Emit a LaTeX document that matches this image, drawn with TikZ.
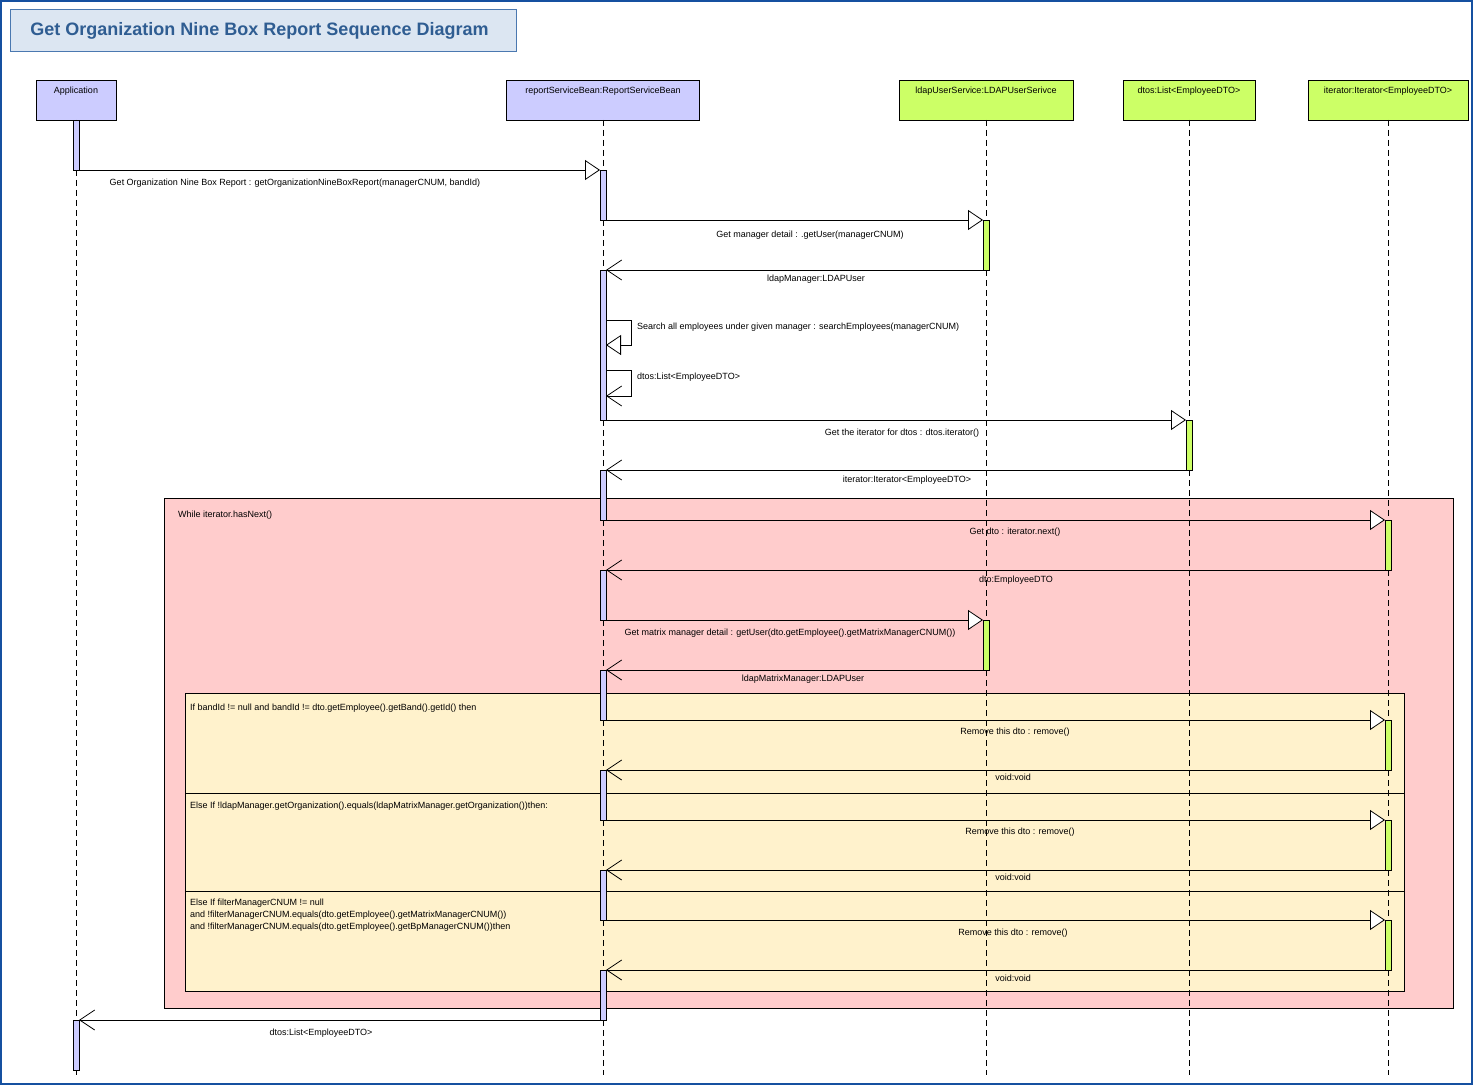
\documentclass[tikz,border=0pt]{standalone}
\usepackage{fontspec}
\setmainfont{Liberation Sans}
\usetikzlibrary{arrows.meta,positioning}

\definecolor{lifeblue}{HTML}{CCCCFF}
\definecolor{lifegreen}{HTML}{CCFF66}
\definecolor{looppink}{HTML}{FFCCCC}
\definecolor{altyellow}{HTML}{FFF2CC}
\definecolor{titlefill}{HTML}{DCE6F2}
\definecolor{titleline}{HTML}{4A78B0}
\definecolor{titletext}{HTML}{2F5D92}
\definecolor{pageline}{HTML}{1550A0}

\tikzset{
  head/.style={draw,line width=0.8pt,anchor=north,minimum height=40pt,inner xsep=2pt,outer sep=0pt,
    inner ysep=3pt,text height=11pt,text depth=23pt,font=\fontsize{9}{11}\selectfont},
  bluebar/.style={draw,fill=lifeblue,line width=0.8pt,minimum width=6pt,inner sep=0pt,outer sep=0pt,anchor=north},
  greenbar/.style={draw,fill=lifegreen,line width=0.8pt,minimum width=6pt,inner sep=0pt,outer sep=0pt,anchor=north},
  lifeline/.style={line width=0.8pt,dash pattern=on 6pt off 4pt},
  call/.style={line width=0.8pt,-{Triangle[length=15pt,width=20pt,fill=white]}},
  reply/.style={line width=0.8pt,-{Straight Barb[length=15pt,width=20pt]}},
  msg/.style={inner sep=0pt,font=\fontsize{9}{11}\selectfont},
  guard/.style={inner sep=0pt,anchor=west,font=\fontsize{9}{12}\selectfont,align=left}
}

\begin{document}
\begin{tikzpicture}[x=1pt,y=-1pt]
\useasboundingbox (0,0) rectangle (1474,1086);
\draw[pageline,line width=2pt] (1,1) rectangle (1472,1084);

% title
\node[draw=titleline,fill=titlefill,line width=1pt,minimum width=506pt,minimum height=42pt,
  inner sep=0pt,text=titletext,font=\fontsize{18}{22}\selectfont\bfseries] (title) at (263,31)
  {\hspace*{-7pt}Get Organization Nine Box Report Sequence Diagram};

% lifeline heads
\node[head,fill=lifeblue,minimum width=80pt] (app) at (76,80) {Application};
\node[head,fill=lifeblue,minimum width=193pt] (rsb) at (603,80) {reportServiceBean:ReportServiceBean};
\node[head,fill=lifegreen,minimum width=174pt] (ldap) at (986,80) {ldapUserService:LDAPUserSerivce};
\node[head,fill=lifegreen,minimum width=132pt] (dtos) at (1189,80) {dtos:List<EmployeeDTO>};
\node[head,fill=lifegreen,minimum width=160pt] (iter) at (1388,80) {iterator:Iterator<EmployeeDTO>};

% loop and alt frames
\draw[fill=looppink,line width=0.8pt] (164,498) rectangle (1453,1008);
\node[msg,anchor=west] (loop) at (178,515) {While iterator.hasNext()};
\draw[fill=altyellow,line width=0.8pt] (185,693) rectangle (1404,991);
\draw[line width=0.8pt] (185,793) -- (1404,793);
\draw[line width=0.8pt] (185,891) -- (1404,891);
\node[guard] (g1) at (190,708) {If bandId != null and bandId != dto.getEmployee().getBand().getId() then};
\node[guard] (g2) at (190,806) {Else If !ldapManager.getOrganization().equals(ldapMatrixManager.getOrganization())then:};
\node[guard,anchor=north west] (g3) at (190,899)
  {Else If filterManagerCNUM != null\\
   and !filterManagerCNUM.equals(dto.getEmployee().getMatrixManagerCNUM())\\
   and !filterManagerCNUM.equals(dto.getEmployee().getBpManagerCNUM())then};

% lifelines
\coordinate (bottom) at (0,1075);
\foreach \h in {app,rsb,ldap,dtos,iter}
  \draw[lifeline] (\h.south) -- (\h.south |- bottom);

% activation bars
\foreach \n/\y/\len in {a1/120/50,a2/1020/50}
  \node[bluebar,minimum height=\len pt] (\n) at (76,\y) {};
\foreach \n/\y/\len in {r1/170/50,r2/270/150,r3/470/50,r4/570/50,r5/670/50,r6/770/50,r7/870/50,r8/970/50}
  \node[bluebar,minimum height=\len pt] (\n) at (603,\y) {};
\foreach \n/\y in {l1/220,l2/620}
  \node[greenbar,minimum height=50pt] (\n) at (986,\y) {};
\node[greenbar,minimum height=50pt] (d1) at (1189,420) {};
\foreach \n/\y in {i1/520,i2/720,i3/820,i4/920}
  \node[greenbar,minimum height=50pt] (\n) at (1388,\y) {};

% messages
\draw[call] (a1.south east) -- (r1.north west);
\node[msg] (t1) at (295,183) {Get Organization Nine Box Report : getOrganizationNineBoxReport(managerCNUM, bandId)};
\draw[call] (r1.south east) -- (l1.north west);
\node[msg] (t2) at (810,235) {Get manager detail : .getUser(managerCNUM)};
\draw[reply] (l1.south west) -- (r2.north east);
\node[msg] (t3) at (816,279) {ldapManager:LDAPUser};
\draw[call] ([yshift=-50pt]r2.north east) -- ++(25,0) -- ++(0,25) -- ([yshift=-75pt]r2.north east);
\node[msg,anchor=west] (t4) at (637,327) {Search all employees under given manager : searchEmployees(managerCNUM)};
\draw[reply] ([yshift=-100pt]r2.north east) -- ++(25,0) -- ++(0,26) -- ([yshift=-126pt]r2.north east);
\node[msg,anchor=west] (t5) at (637,377) {dtos:List<EmployeeDTO>};
\draw[call] (r2.south east) -- (d1.north west);
\node[msg] (t6) at (902,433) {Get the iterator for dtos : dtos.iterator()};
\draw[reply] (d1.south west) -- (r3.north east);
\node[msg] (t7) at (907,480) {iterator:Iterator<EmployeeDTO>};
\draw[call] (r3.south east) -- (i1.north west);
\node[msg] (t8) at (1015,532) {Get dto : iterator.next()};
\draw[reply] (i1.south west) -- (r4.north east);
\node[msg] (t9) at (1016,580) {dto:EmployeeDTO};
\draw[call] (r4.south east) -- (l2.north west);
\node[msg] (t10) at (790,633) {Get matrix manager detail : getUser(dto.getEmployee().getMatrixManagerCNUM())};
\draw[reply] (l2.south west) -- (r5.north east);
\node[msg] (t11) at (803,679) {ldapMatrixManager:LDAPUser};
\draw[call] (r5.south east) -- (i2.north west);
\node[msg] (t12) at (1015,732) {Remove this dto : remove()};
\draw[reply] (i2.south west) -- (r6.north east);
\node[msg] (t13) at (1013,777) {void:void};
\draw[call] (r6.south east) -- (i3.north west);
\node[msg] (t14) at (1020,832) {Remove this dto : remove()};
\draw[reply] (i3.south west) -- (r7.north east);
\node[msg] (t15) at (1013,877) {void:void};
\draw[call] (r7.south east) -- (i4.north west);
\node[msg] (t16) at (1013,933) {Remove this dto : remove()};
\draw[reply] (i4.south west) -- (r8.north east);
\node[msg] (t17) at (1013,978) {void:void};
\draw[reply] (r8.south west) -- (a2.north east);
\node[msg] (t18) at (321,1033) {dtos:List<EmployeeDTO>};
\end{tikzpicture}
\end{document}
